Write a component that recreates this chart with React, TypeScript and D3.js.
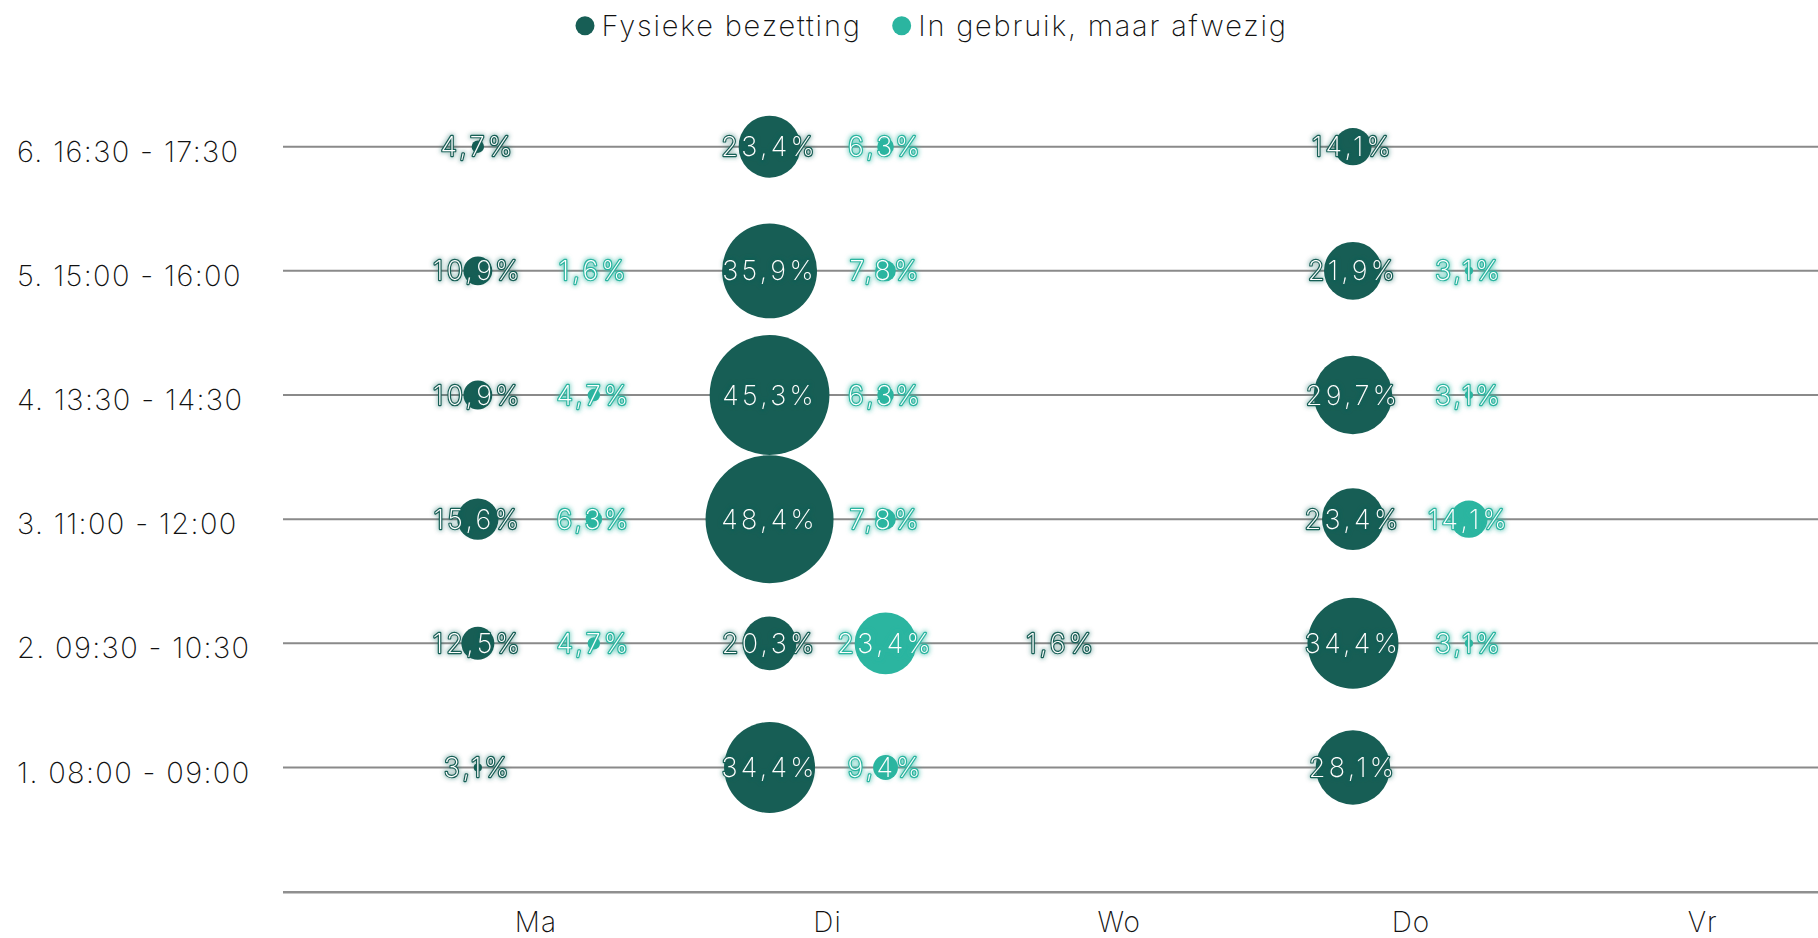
import React, { useEffect, useRef } from "react";
import * as d3 from "d3";

const W = 1818;
const H = 938;

const days = ["Ma", "Di", "Wo", "Do", "Vr"];
const slots = [
  "1. 08:00 - 09:00",
  "2. 09:30 - 10:30",
  "3. 11:00 - 12:00",
  "4. 13:30 - 14:30",
  "5. 15:00 - 16:00",
  "6. 16:30 - 17:30",
];
const seriesNames = ["Fysieke bezetting", "In gebruik, maar afwezig"];
const seriesColors = ["#175e55", "#2bb5a0"];

// values per day, ordered by slot (1 .. 6); null = no value
const fysiekeMa = [3.1, 12.5, 15.6, 10.9, 10.9, 4.7];
const fysiekeDi = [34.4, 20.3, 48.4, 45.3, 35.9, 23.4];
const fysiekeWo = [null, 1.6, null, null, null, null];
const fysiekeDo = [28.1, 34.4, 23.4, 29.7, 21.9, 14.1];
const fysiekeVr = [null, null, null, null, null, null];

const afwezigMa = [null, 4.7, 6.3, 4.7, 1.6, null];
const afwezigDi = [9.4, 23.4, 7.8, 6.3, 7.8, 6.3];
const afwezigWo = [null, null, null, null, null, null];
const afwezigDo = [null, 3.1, 14.1, 3.1, 3.1, null];
const afwezigVr = [null, null, null, null, null, null];

const fysiekeByDay = [fysiekeMa, fysiekeDi, fysiekeWo, fysiekeDo, fysiekeVr];
const afwezigByDay = [afwezigMa, afwezigDi, afwezigWo, afwezigDo, afwezigVr];

type Pt = { day: string; slot: string; series: number; value: number };

export default function App() {
  const ref = useRef<SVGSVGElement | null>(null);

  useEffect(() => {
    const svg = d3.select(ref.current);
    svg.selectAll("*").remove();

    const font = "Inter, 'Noto Sans', sans-serif";
    const weight = 250;

    const x = d3.scaleBand<string>().domain(days).range([390, 390 + 291.7 * 5]);
    const sub = d3.scalePoint<string>().domain(seriesNames).range([-58, 58]);
    const y = d3
      .scalePoint<string>()
      .domain([...slots].reverse())
      .range([146.7, 767.5]);
    const r = d3.scaleLinear().domain([0, 48.4]).range([0, 64]);

    const pts: Pt[] = [];
    [fysiekeByDay, afwezigByDay].forEach((byDay, si) => {
      byDay.forEach((vals, di) => {
        vals.forEach((v, k) => {
          if (v != null) pts.push({ day: days[di], slot: slots[k], series: si, value: v });
        });
      });
    });

    const cx = (p: Pt) => (x(p.day) as number) + x.bandwidth() / 2 + (sub(seriesNames[p.series]) as number);

    const defs = svg.append("defs");
    seriesColors.forEach((c, i) => {
      const f = defs
        .append("filter")
        .attr("id", "glow" + i)
        .attr("x", "-30%")
        .attr("y", "-60%")
        .attr("width", "160%")
        .attr("height", "220%");
      f.append("feMorphology").attr("in", "SourceAlpha").attr("operator", "dilate").attr("radius", 1).attr("result", "d");
      f.append("feGaussianBlur").attr("in", "d").attr("stdDeviation", 2).attr("result", "b");
      f.append("feFlood").attr("flood-color", c).attr("flood-opacity", i === 0 ? 0.35 : 0.55);
      f.append("feComposite").attr("in2", "b").attr("operator", "in").attr("result", "g");
      const m = f.append("feMerge");
      m.append("feMergeNode").attr("in", "g");
      m.append("feMergeNode").attr("in", "SourceGraphic");
    });

    // legend
    const lg = svg.append("g");
    let lx = 585;
    seriesNames.forEach((n, i) => {
      lg.append("circle").attr("cx", lx).attr("cy", 25.7).attr("r", 9.5).attr("fill", seriesColors[i]);
      const t = lg
        .append("text")
        .attr("x", lx + 16.5)
        .attr("y", 35.7)
        .attr("font-family", font)
        .attr("font-weight", weight)
        .attr("font-size", 29)
        .attr("letter-spacing", 1.8)
        .attr("fill", "#111")
        .text(n);
      const w = (t.node() as SVGTextElement).getComputedTextLength();
      lx = lx + 16.5 + w + 40;
    });

    // gridlines
    svg
      .append("g")
      .selectAll("line")
      .data(slots)
      .join("line")
      .attr("x1", 283)
      .attr("x2", W)
      .attr("y1", (d) => y(d) as number)
      .attr("y2", (d) => y(d) as number)
      .attr("stroke", "#8a8a8a")
      .attr("stroke-width", 2);

    // y labels
    svg
      .append("g")
      .selectAll("text")
      .data(slots)
      .join("text")
      .attr("x", 17)
      .attr("y", (d) => (y(d) as number) + 15)
      .attr("font-family", font)
      .attr("font-weight", weight)
      .attr("font-size", 29)
      .attr("letter-spacing", 1.35)
      .attr("fill", "#111")
      .text((d) => d);

    // bottom axis
    const axisY = 892.3;
    svg.append("line").attr("x1", 283).attr("x2", W).attr("y1", axisY).attr("y2", axisY).attr("stroke", "#8f8f8f").attr("stroke-width", 2.5);
    svg
      .append("g")
      .selectAll("text")
      .data(days)
      .join("text")
      .attr("x", (d) => (x(d) as number) + x.bandwidth() / 2)
      .attr("y", 932)
      .attr("text-anchor", "middle")
      .attr("font-family", font)
      .attr("font-weight", weight)
      .attr("font-size", 28)
      .attr("letter-spacing", 1)
      .attr("fill", "#111")
      .text((d) => d);

    // bubbles
    svg
      .append("g")
      .selectAll("circle")
      .data(pts)
      .join("circle")
      .attr("cx", cx)
      .attr("cy", (p) => y(p.slot) as number)
      .attr("r", (p) => r(p.value))
      .attr("fill", (p) => seriesColors[p.series]);

    // labels
    svg
      .append("g")
      .selectAll("text")
      .data(pts)
      .join("text")
      .attr("x", cx)
      .attr("y", (p) => (y(p.slot) as number) + 9.5)
      .attr("text-anchor", "middle")
      .attr("font-family", font)
      .attr("font-weight", weight)
      .attr("font-size", 27)
      .attr("letter-spacing", 3.3)
      .attr("fill", "#fff")
      .attr("stroke", (p) => seriesColors[p.series])
      .attr("stroke-width", 2.4)
      .attr("stroke-linejoin", "round")
      .attr("paint-order", "stroke")
      .attr("filter", (p) => `url(#glow${p.series})`)
      .text((p) => d3.format(".1f")(p.value).replace(".", ",") + "%");
  }, []);

  return (
    <svg
      ref={ref}
      width={W}
      height={H}
      style={{ position: "absolute", left: 0, top: 0, display: "block", background: "#fff" }}
    />
  );
}
